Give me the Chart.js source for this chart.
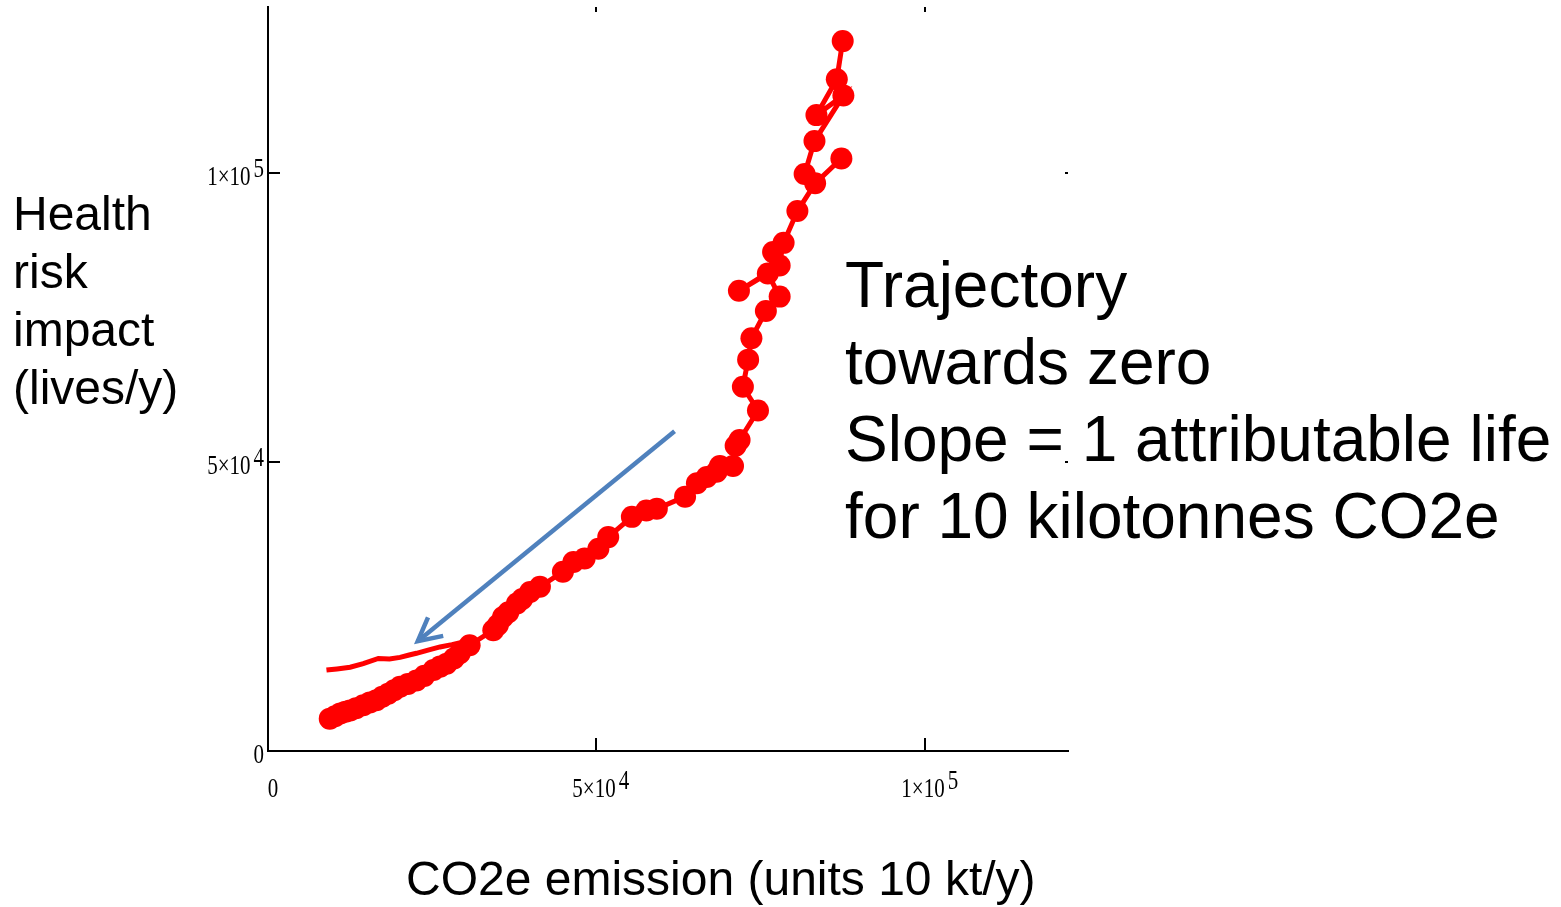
<!DOCTYPE html>
<html>
<head>
<meta charset="utf-8">
<script src="https://cdn.jsdelivr.net/npm/chart.js@4"></script>
<style>
  html, body { margin: 0; padding: 0; background: #fff; }
  #wrap { position: relative; width: 1561px; height: 907px; overflow: hidden; background: #fff; }
  #c { position: absolute; left: 0; top: 0; }
  .txt { position: absolute; font-family: "Liberation Sans", Arial, sans-serif; color: #000; white-space: nowrap; }
  #ylab { left: 13px; top: 185px; font-size: 48px; line-height: 58px; }
  #note { left: 845px; top: 247px; font-size: 64px; line-height: 77px; }
  #xlab { left: 406px; top: 850px; font-size: 48px; line-height: 58px; }
</style>
</head>
<body>
<div id="wrap">
  <canvas id="c" width="1561" height="907"></canvas>
  <div class="txt" id="ylab">Health<br>risk<br>impact<br>(lives/y)</div>
  <div class="txt" id="note">Trajectory<br>towards zero<br>Slope = 1 attributable life<br>for 10 kilotonnes CO2e</div>
  <div class="txt" id="xlab">CO2e emission (units 10 kt/y)</div>
</div>
<script>
// ---- data (CO2e emission in units of 10 kt/y, health impact in lives/y) ----
const trajX = [9400, 10200, 11000, 11800, 12500, 13400, 14500, 15500, 16500, 17400, 18300, 19200, 20100, 21300, 22600, 23800, 25200, 26200, 27200, 28300, 29200, 30700,
  34300, 35000, 35800, 36600, 37900, 38700, 39900, 41400,
  44900, 46500, 48200, 50300, 51800, 55400, 57600, 59200, 63500, 65300, 66800, 68300, 68800, 70800, 71200, 71800,
  74600, 72300, 73100, 73600, 75800, 77900, 76100, 71700, 77900, 76900, 78500, 80600, 83300, 87300,
  null,
  81700, 83200, 87600, 83500, 86600, 87500];
const trajY = [5600, 6000, 6500, 6800, 7000, 7400, 7900, 8400, 8800, 9400, 9900, 10500, 11100, 11600, 12200, 13000, 14000, 14600, 15100, 16000, 16900, 18300,
  20900, 21800, 23200, 24000, 25500, 26300, 27500, 28400,
  31000, 32700, 33300, 35000, 37000, 40500, 41600, 41900, 44000, 46300, 47400, 48300, 49300, 49300, 52800, 53800,
  58900, 63000, 67700, 71400, 76100, 78600, 82600, 79600, 84000, 86300, 87900, 93400, 98200, 102500,
  null,
  99800, 105500, 113400, 110000, 116200, 122800];

const thinX = [8900, 10500, 12500, 14500, 16800, 18500, 20100, 21500, 22600, 24500, 26200, 28000, 29200, 30700];
const thinY = [14000, 14200, 14500, 15100, 16000, 15900, 16200, 16600, 16900, 17500, 18000, 18400, 18700, 18300];

const arrowX = [61900, 22800];
const arrowY = [55300, 19000];

const xMax = 121800;
const yMax = 128700;
const xTickValues = [0, 50000, 100000];
const xTickBase = ["0", "5×10", "1×10"];
const xTickExp = ["", "4", "5"];
const yTickValues = [0, 50000, 100000];
const yTickBase = ["0", "5×10", "1×10"];
const yTickExp = ["", "4", "5"];

function pts(xs, ys) {
  return xs.map((v, i) => (v === null || ys[i] === null) ? { x: null, y: null } : { x: v, y: ys[i] });
}

const RED = '#ff0000';
const BLUE = '#4f81bd';

function drawSci(ctx, base, exp, x, y, align) {
  ctx.save();
  ctx.translate(x, y);
  ctx.scale(1, 1.28);
  ctx.font = '21px "Liberation Serif", "Times New Roman", serif';
  ctx.fillStyle = '#000';
  ctx.textBaseline = 'alphabetic';
  ctx.textAlign = 'left';
  const wB = ctx.measureText(base).width;
  const gap = exp ? 3 : 0;
  const wE = exp ? ctx.measureText(exp).width : 0;
  let sx;
  if (align === 'right') sx = -(wB + gap + wE);
  else sx = -wB / 2;
  ctx.fillText(base, sx, 0);
  if (exp) ctx.fillText(exp, sx + wB + gap, -6);
  ctx.restore();
}

const decor = {
  id: 'decor',
  afterDraw(chart) {
    const { ctx, chartArea: a } = chart;
    const xs = chart.scales.x, ys = chart.scales.y;
    ctx.save();
    ctx.strokeStyle = '#000';
    ctx.fillStyle = '#000';
    ctx.lineWidth = 2;
    xTickValues.forEach((v, i) => {
      const px = Math.round(xs.getPixelForValue(v));
      if (v !== 0) {
        ctx.beginPath(); ctx.moveTo(px, a.bottom); ctx.lineTo(px, a.bottom - 13); ctx.stroke();
        ctx.beginPath(); ctx.moveTo(px, a.top); ctx.lineTo(px, a.top + 5); ctx.stroke();
      }
      drawSci(ctx, xTickBase[i], xTickExp[i], px + (v === 0 ? 5 : -2), a.bottom + 46, 'center');
    });
    yTickValues.forEach((v, i) => {
      const py = Math.round(ys.getPixelForValue(v));
      if (v !== 0) {
        ctx.beginPath(); ctx.moveTo(a.left, py); ctx.lineTo(a.left + 12, py); ctx.stroke();
        ctx.fillRect(a.right - 3, py - 1, 3, 2);
      }
      drawSci(ctx, yTickBase[i], yTickExp[i], 264, py + 12, 'right');
    });
    // arrow head on the blue arrow dataset
    const meta = chart.getDatasetMeta(2);
    const p0 = meta.data[0], p1 = meta.data[1];
    const ang = Math.atan2(p0.y - p1.y, p0.x - p1.x);
    const L = 26, spread = 27.5 * Math.PI / 180;
    ctx.strokeStyle = BLUE;
    ctx.lineWidth = 4.5;
    ctx.lineJoin = 'miter';
    ctx.beginPath();
    ctx.moveTo(p1.x + L * Math.cos(ang - spread), p1.y + L * Math.sin(ang - spread));
    ctx.lineTo(p1.x, p1.y);
    ctx.lineTo(p1.x + L * Math.cos(ang + spread), p1.y + L * Math.sin(ang + spread));
    ctx.stroke();
    ctx.restore();
  }
};

new Chart(document.getElementById('c'), {
  type: 'scatter',
  data: {
    datasets: [
      {
        label: 'thin',
        data: pts(thinX, thinY),
        showLine: true,
        borderColor: RED,
        borderWidth: 5,
        pointRadius: 0,
        pointHoverRadius: 0
      },
      {
        label: 'trajectory',
        data: pts(trajX, trajY),
        showLine: true,
        spanGaps: false,
        borderColor: RED,
        borderWidth: 5,
        backgroundColor: RED,
        pointBackgroundColor: RED,
        pointBorderColor: RED,
        pointBorderWidth: 0,
        pointRadius: 11,
        pointHoverRadius: 11
      },
      {
        label: 'arrow',
        data: pts(arrowX, arrowY),
        showLine: true,
        borderColor: BLUE,
        borderWidth: 4.5,
        pointRadius: 0,
        pointHoverRadius: 0
      }
    ]
  },
  options: {
    responsive: false,
    animation: false,
    devicePixelRatio: 1,
    layout: { autoPadding: false, padding: { left: 268, top: 7, right: 1561 - 1068, bottom: 907 - 751 } },
    plugins: { legend: { display: false }, tooltip: { enabled: false }, title: { display: false } },
    events: [],
    scales: {
      x: {
        type: 'linear', min: 0, max: xMax,
        grid: { display: false, drawTicks: false, tickLength: 0 },
        ticks: { display: false, padding: 0 },
        border: { display: true, color: '#000', width: 2 }
      },
      y: {
        type: 'linear', min: 0, max: yMax,
        grid: { display: false, drawTicks: false, tickLength: 0 },
        ticks: { display: false, padding: 0 },
        border: { display: true, color: '#000', width: 2 }
      }
    }
  },
  plugins: [decor]
});
</script>
</body>
</html>
